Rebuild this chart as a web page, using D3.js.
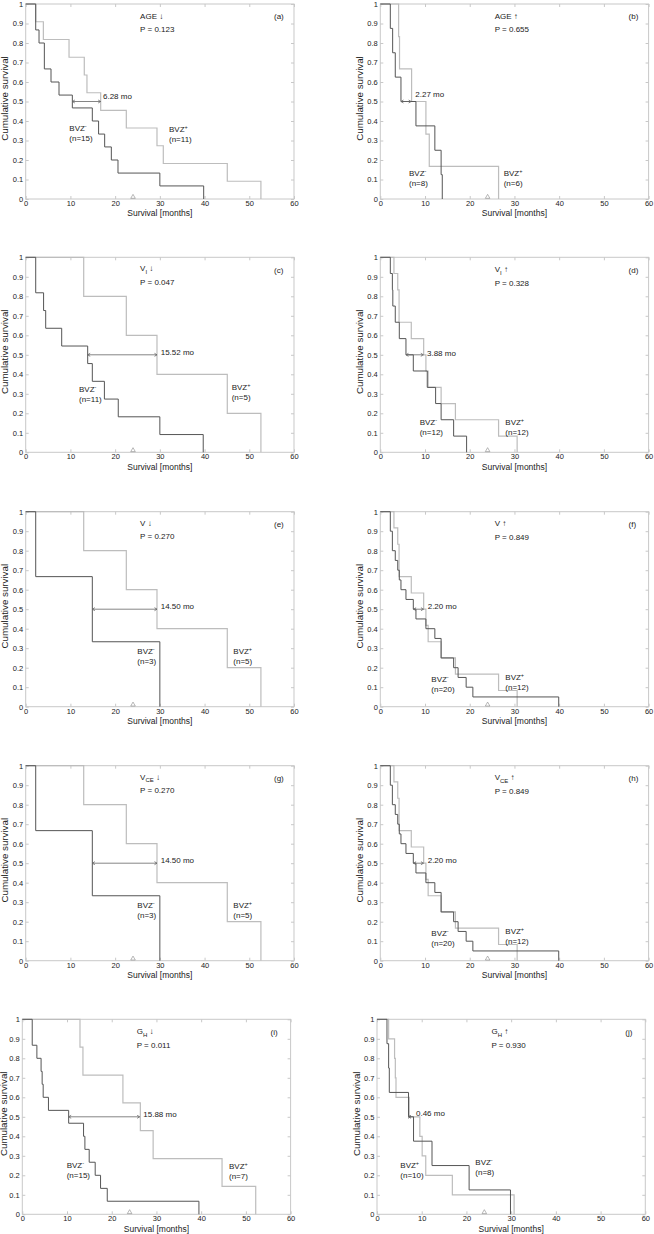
<!DOCTYPE html>
<html><head><meta charset="utf-8">
<script src="https://cdn.jsdelivr.net/npm/d3@7"></script>
<style>
body{margin:0;background:#fff}
text{font-family:"Liberation Sans",Arial,Helvetica,"DejaVu Sans",sans-serif;fill:#222}
</style>
</head><body>
<svg id="chart" width="654" height="1234"></svg>
<script>
// ---------- axis ticks ----------
const xTicks = [0, 10, 20, 30, 40, 50, 60];
const xTickLabels = ["0", "10", "20", "30", "40", "50", "60"];
const yTicks = [0, 0.1, 0.2, 0.3, 0.4, 0.5, 0.6, 0.7, 0.8, 0.9, 1];
const yTickLabels = ["0", "0.1", "0.2", "0.3", "0.4", "0.5", "0.6", "0.7", "0.8", "0.9", "1"];

// ---------- panel texts ----------
const panelIds = ["a", "b", "c", "d", "e", "f", "g", "h", "i", "j"];
const groupName = ["AGE", "AGE", "V", "V", "V", "V", "V", "V", "G", "G"];
const groupSub = ["", "", "I", "I", "", "", "CE", "CE", "H", "H"];
const groupArrow = ["↓", "↑", "↓", "↑", "↓", "↑", "↓", "↑", "↓", "↑"];
const pValues = ["0.123", "0.655", "0.047", "0.328", "0.270", "0.849", "0.270", "0.849", "0.011", "0.930"];
const medianDiff = ["6.28", "2.27", "15.52", "3.88", "14.50", "2.20", "14.50", "2.20", "15.88", "0.46"];
const nNeg = [15, 8, 11, 12, 3, 20, 3, 20, 15, 8];
const nPos = [11, 6, 5, 12, 5, 12, 5, 12, 7, 10];
const medFrom = [10.43, 4.62, 13.86, 5.74, 14.9, 7.45, 14.9, 7.45, 10.37, 7.05];
const medTo = [16.77, 6.9, 29.36, 9.62, 29.36, 9.65, 29.36, 9.65, 26.25, 7.51];
const censorMark = 24;

// ---------- survival series (event time in months, survival after event) ----------
const aNegT = [2.24, 2.98, 4.17, 5.66, 7.45, 10.43, 14.9, 16.3, 17.66, 19.15, 20.64, 30.0, 39.8];
const aNegS = [0.867, 0.8, 0.667, 0.6, 0.533, 0.467, 0.4, 0.333, 0.267, 0.2, 0.133, 0.067, 0];
const aPosT = [2.24, 3.95, 9.69, 13.1, 13.7, 16.77, 22.5, 29.36, 30.77, 45.08, 52.6];
const aPosS = [0.909, 0.818, 0.727, 0.636, 0.545, 0.455, 0.364, 0.273, 0.182, 0.091, 0];

const bNegT = [2.24, 2.76, 3.35, 4.62, 7.97, 12.2, 13.6, 13.86];
const bNegS = [0.875, 0.75, 0.625, 0.5, 0.375, 0.25, 0.125, 0];
const bPosT = [4.1, 4.3, 7.0, 10.2, 10.95, 26.45];
const bPosS = [0.833, 0.667, 0.5, 0.333, 0.167, 0];

const cNegT = [2.24, 4.0, 4.47, 8.05, 13.86, 14.9, 17.6, 20.7, 30.0, 39.7];
const cNegS = [0.818, 0.727, 0.636, 0.545, 0.455, 0.364, 0.273, 0.182, 0.091, 0];
const cPosT = [12.97, 22.5, 29.36, 45.08, 52.6];
const cPosS = [0.8, 0.6, 0.4, 0.2, 0];

const dNegT = [2.24, 2.7, 2.8, 3.35, 4.25, 5.74, 7.38, 10.5, 12.37, 13.6, 16.4, 19.3];
const dNegS = [0.917, 0.833, 0.75, 0.667, 0.583, 0.5, 0.417, 0.333, 0.25, 0.167, 0.083, 0];
const dPosT = [3.05, 3.9, 4.2, 6.93, 9.7, 10.2, 10.7, 13.6, 16.8, 26.45, 30.6];
const dPosS = [0.917, 0.833, 0.667, 0.583, 0.5, 0.417, 0.333, 0.25, 0.167, 0.083, 0];

const eNegT = [2.24, 14.9, 30.0];
const eNegS = [0.667, 0.333, 0];
const ePosT = [12.97, 22.5, 29.36, 45.08, 52.6];
const ePosS = [0.8, 0.6, 0.4, 0.2, 0];

const fNegT = [2.24, 2.7, 3.35, 3.9, 4.25, 4.62, 5.74, 7.38, 7.97, 10.2, 12.2, 13.6, 16.4, 17.4, 19.2, 20.7, 39.9];
const fNegS = [0.9, 0.8, 0.75, 0.7, 0.65, 0.6, 0.55, 0.5, 0.45, 0.4, 0.35, 0.25, 0.2, 0.15, 0.1, 0.05, 0];
const fPosT = [3.05, 3.9, 4.2, 6.93, 9.7, 10.2, 10.7, 13.6, 16.8, 26.45, 30.6];
const fPosS = [0.917, 0.833, 0.667, 0.583, 0.5, 0.417, 0.333, 0.25, 0.167, 0.083, 0];

const iNegT = [2.22, 3.26, 4.2, 4.44, 4.67, 5.85, 10.37, 13.7, 14.0, 14.96, 16.3, 17.5, 19.0, 39.5];
const iNegS = [0.867, 0.8, 0.733, 0.667, 0.6, 0.533, 0.467, 0.4, 0.333, 0.267, 0.2, 0.133, 0.067, 0];
const iPosT = [12.9, 13.56, 22.5, 26.4, 29.26, 44.67, 52.2];
const iPosS = [0.857, 0.714, 0.571, 0.429, 0.286, 0.143, 0];

const jNegT = [2.23, 2.6, 2.75, 7.05, 8.17, 12.3, 20.6, 29.85];
const jNegS = [0.875, 0.75, 0.625, 0.5, 0.375, 0.25, 0.125, 0];
const jPosT = [2.6, 3.93, 4.1, 4.25, 7.2, 9.58, 10.1, 10.9, 16.85, 30.66];
const jPosS = [0.9, 0.8, 0.7, 0.6, 0.5, 0.4, 0.3, 0.2, 0.1, 0];

const negSeries = [[aNegT, aNegS], [bNegT, bNegS], [cNegT, cNegS], [dNegT, dNegS], [eNegT, eNegS],
                   [fNegT, fNegS], [eNegT, eNegS], [fNegT, fNegS], [iNegT, iNegS], [jNegT, jNegS]];
const posSeries = [[aPosT, aPosS], [bPosT, bPosS], [cPosT, cPosS], [dPosT, dPosS], [ePosT, ePosS],
                   [fPosT, fPosS], [ePosT, ePosS], [fPosT, fPosS], [iPosT, iPosS], [jPosT, jPosS]];

// ---------- layout (pixels) ----------
const panelLeft = [25.7, 380.3, 25.7, 380.3, 25.7, 380.3, 25.7, 380.3, 22.3, 377];
const panelTop = [4, 4, 257.3, 257.3, 511.7, 511.7, 765.7, 765.7, 1019.3, 1019.3];
const yLabelOffset = [-21, -20, -21, -20, -21, -20, -21, -20, -18, -20];
const plotW = 268.3, plotH = 195;
// text centers relative to plot origin: [title y, P y, median x, median y, neg x, neg y, pos x, pos y]
const txtPos = [
  [12.5, 25.5, 77.3, 92.5, 43.6, 124.5, 143.3, 125.5],
  [12.5, 25.5, 35, 90.5, 28.7, 169.5, 123.4, 169.5],
  [11, 24.5, 135, 94.5, 53.3, 131.5, 206, 129.5],
  [12, 25.5, 46.7, 96, 39.4, 164.5, 125, 164.5],
  [11.5, 25, 135, 94.5, 111.6, 139.5, 207.6, 139.5],
  [12, 25.5, 47.4, 95, 51, 167.5, 125, 166],
  [11.5, 25, 135, 94.5, 111.6, 139.5, 207.6, 139.5],
  [12, 25.5, 47.4, 94.5, 51, 167.5, 125, 166],
  [12, 25.5, 121, 94.5, 44.4, 146, 206.7, 146.5],
  [12, 25.5, 39, 94, 98.3, 142.5, 23.3, 146]
];

const svg = d3.select("#chart");
const frameColor = "#c8c8c8", darkColor = "#555555", lightColor = "#bdbdbd";

panelIds.forEach((id, k) => {
  const g = svg.append("g").attr("transform", `translate(${panelLeft[k]},${panelTop[k]})`);
  const x = d3.scaleLinear().domain([0, 60]).range([0, plotW]);
  const y = d3.scaleLinear().domain([0, 1]).range([plotH, 0]);

  // frame
  g.append("rect").attr("x", 0).attr("y", 0).attr("width", plotW).attr("height", plotH)
    .attr("fill", "none").attr("stroke", frameColor).attr("stroke-width", 1);

  // axes
  const xAxis = d3.axisBottom(x).tickValues(xTicks).tickFormat((d, i) => xTickLabels[i]).tickSize(-3).tickPadding(1.5);
  const yAxis = d3.axisLeft(y).tickValues(yTicks).tickFormat((d, i) => yTickLabels[i]).tickSize(-3).tickPadding(2.5);
  const xTop = d3.axisTop(x).tickValues(xTicks).tickFormat("").tickSize(-3);
  const yRight = d3.axisRight(y).tickValues(yTicks).tickFormat("").tickSize(-3);
  const styleAxis = sel => {
    sel.select(".domain").remove();
    sel.selectAll(".tick line").attr("stroke", frameColor);
    sel.selectAll(".tick text").attr("fill", "#333").style("font-size", "7.5px")
      .style("font-family", '"Liberation Sans",Arial,sans-serif');
  };
  g.append("g").attr("transform", `translate(0,${plotH})`).call(xAxis).call(styleAxis);
  g.append("g").call(yAxis).call(styleAxis);
  g.append("g").call(xTop).call(styleAxis);
  g.append("g").attr("transform", `translate(${plotW},0)`).call(yRight).call(styleAxis);

  // axis titles
  g.append("text").attr("x", plotW / 2).attr("y", plotH + 14.5).attr("dy", "0.35em")
    .attr("text-anchor", "middle").style("font-size", "8.5px").text("Survival [months]");
  g.append("text").attr("transform", `translate(${yLabelOffset[k]},${plotH / 2 - 3}) rotate(-90) scale(1.15,1)`).attr("dy", "0.35em")
    .attr("text-anchor", "middle").style("font-size", "8.5px").text("Cumulative survival");

  // curves
  const line = d3.line().x(d => x(d[0])).y(d => y(d[1])).curve(d3.curveStepAfter);
  const toPts = s => [[0, 1]].concat(s[0].map((t, i) => [t, s[1][i]]));
  g.append("path").attr("d", line(toPts(posSeries[k]))).attr("fill", "none")
    .attr("stroke", lightColor).attr("stroke-width", 1.2);
  g.append("path").attr("d", line(toPts(negSeries[k]))).attr("fill", "none")
    .attr("stroke", darkColor).attr("stroke-width", 1);

  // median difference arrow
  const ya = y(0.5), x1 = x(medFrom[k]), x2 = x(medTo[k]);
  g.append("line").attr("x1", x1).attr("x2", x2).attr("y1", ya).attr("y2", ya)
    .attr("stroke", "#666").attr("stroke-width", 0.8);
  g.append("path").attr("d", `M${x1 + 2.5},${ya - 1.5}L${x1},${ya}L${x1 + 2.5},${ya + 1.5}M${x2 - 2.5},${ya - 1.5}L${x2},${ya}L${x2 - 2.5},${ya + 1.5}`)
    .attr("fill", "none").attr("stroke", "#666").attr("stroke-width", 0.8);

  // censor triangle
  g.append("path").attr("d", d3.symbol(d3.symbolTriangle, 9)())
    .attr("transform", `translate(${x(censorMark)},${y(0) - 2})`)
    .attr("fill", "none").attr("stroke", "#888").attr("stroke-width", 0.6);

  const tp = txtPos[k];
  // title
  const t = g.append("text").attr("x", 114.4).attr("y", tp[0]).attr("dy", "0.35em").style("font-size", "8px");
  t.append("tspan").text(groupName[k]);
  if (groupSub[k]) t.append("tspan").attr("dy", 2.5).style("font-size", "6px").text(groupSub[k]);
  t.append("tspan").attr("dy", groupSub[k] ? -2.5 : 0).text(" " + groupArrow[k]);
  g.append("text").attr("x", 114.4).attr("y", tp[1]).attr("dy", "0.35em").style("font-size", "8px")
    .text("P = " + pValues[k]);
  g.append("text").attr("x", 248.3).attr("y", 12.5).attr("dy", "0.35em").style("font-size", "8px")
    .text("(" + id + ")");
  g.append("text").attr("x", tp[2]).attr("y", tp[3]).attr("dy", "0.35em").style("font-size", "8px")
    .text(medianDiff[k] + " mo");

  const bvz = (xx, yy, sign, n) => {
    const a = g.append("text").attr("x", xx).attr("y", yy).attr("dy", "0.35em").style("font-size", "8px");
    a.append("tspan").text("BVZ");
    a.append("tspan").attr("dy", -3).style("font-size", "5.5px").text(sign);
    g.append("text").attr("x", xx).attr("y", yy + 10).attr("dy", "0.35em").style("font-size", "8px")
      .text("(n=" + n + ")");
  };
  bvz(tp[4], tp[5], "-", nNeg[k]);
  bvz(tp[6], tp[7], "+", nPos[k]);
});
</script>
</body></html>
